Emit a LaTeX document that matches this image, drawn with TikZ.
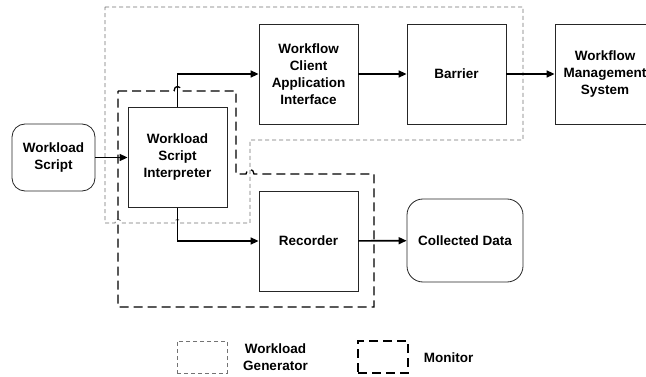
\documentclass[tikz,border=0pt]{standalone}
\usepackage{fontspec}
\setmainfont{Liberation Sans}
\usetikzlibrary{arrows.meta}
\begin{document}
\begin{tikzpicture}[x=1pt,y=-1pt,
  font=\fontsize{13.5}{17}\selectfont\bfseries,
  blk/.style={draw=black!85,line width=0.8pt,align=center,inner sep=0pt,
    minimum width=99pt,minimum height=100pt},
  rnd/.style={blk,rounded corners=13pt},
  flow/.style={line width=1.6pt,-{Triangle[length=8pt,width=7pt]}},
  gengroup/.style={draw=black!55,line width=0.8pt,dash pattern=on 4pt off 3pt},
  mongroup/.style={draw=black,line width=1.3pt,dash pattern=on 9pt off 5pt}]
\clip (0,0) rectangle (646,377);
\fill[white] (0,0) rectangle (646,377);

% workload generator group
\draw[gengroup] (105,7) -- (523,7) -- (523,140) -- (250,140) -- (250,223)
  -- (180,223) .. controls (180,218) and (175,218) .. (175,223)
  -- (121,223) .. controls (121,218) and (115,218) .. (115,223)
  -- (105,223) -- cycle;

% monitor group
\draw[mongroup] (118,91) -- (174,91) .. controls (174,85) and (181,85) .. (181,91)
  -- (236,91) -- (236,174) -- (246,174) .. controls (246,168) and (254,168) .. (254,174)
  -- (374,174) -- (374,307) -- (118,307) -- cycle;

% components
\node[rnd,minimum width=83pt,minimum height=67pt] (ws) at (53.5,157.5) {Workload\\Script};
\node[blk,fill=white] (wsi) at (177.5,157.5) {Workload\\Script\\Interpreter};
\node[blk] (wcai) at (308.5,74) {Workflow\\Client\\Application\\Interface};
\node[blk] (bar) at (456.5,74) {Barrier};
\node[blk,minimum width=100pt] (wms) at (605,74) {Workflow\\Management\\System};
\node[blk,fill=white] (rec) at (308.5,241) {Recorder};
\node[rnd,minimum width=116pt,minimum height=83pt,rounded corners=16pt] (cd) at (465,240.5) {Collected Data};

% data flow
\draw[flow] (ws) -- (wsi);
\draw[flow] (wsi.north) |- (wcai.west);
\draw[flow] (wcai) -- (bar);
\draw[flow] (bar) -- (wms);
\draw[flow] (wsi.south) |- (rec.west);
\draw[flow] (rec) -- (cd);

% legend
\node[gengroup,minimum width=50pt,minimum height=32pt,inner sep=0pt] (lgen) at (202,357) {};
\node[align=center,inner sep=0pt] (lgent) at (275.5,357) {Workload\\Generator};
\node[mongroup,minimum width=50pt,minimum height=32pt,inner sep=0pt] (lmon) at (383,357) {};
\node[inner sep=0pt] (lmont) at (448.5,358) {Monitor};
\end{tikzpicture}
\end{document}
